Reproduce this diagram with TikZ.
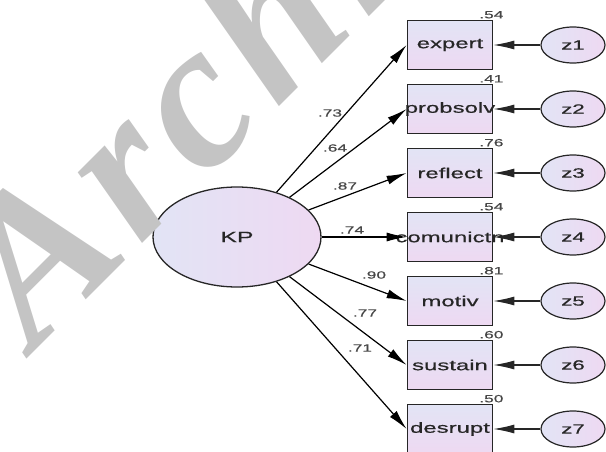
\documentclass[tikz,border=0pt]{standalone}
\usepackage{fontspec}
\setmainfont{Liberation Sans}
\newfontfamily\widesans[FakeStretch=1.65,FakeBold=0.6]{Liberation Sans}
\newfontfamily\wmarkfont[LetterSpace=5]{Liberation Serif}
\usetikzlibrary{shapes.geometric,arrows.meta}
\definecolor{lilacA}{RGB}{226,228,245}
\definecolor{lilacB}{RGB}{238,217,242}
\definecolor{ink}{RGB}{38,38,38}
\definecolor{wmgray}{RGB}{196,196,196}

\begin{document}
\begin{tikzpicture}[x=1pt, y=-1pt,
    latent/.style={ellipse, draw=ink, line width=1.3pt, left color=lilacA, right color=lilacB, text=ink, inner sep=0pt},
    obs/.style={rectangle, draw=ink, line width=1.8pt, top color=lilacA, bottom color=lilacB, text=ink,
        minimum width=85pt, minimum height=49pt, inner sep=0pt, font=\widesans\fontsize{14.5}{15}\selectfont},
    errv/.style={latent, minimum width=64pt, minimum height=36pt, line width=1.2pt, font=\widesans\fontsize{13.5}{14}\selectfont},
    num/.style={text=ink!85, inner sep=1pt, font=\widesans\fontsize{10.5}{11}\selectfont},
    load/.style={draw=black, line width=1.2pt, -{Latex[length=20pt,width=9pt]}},
    resid/.style={draw=ink, line width=1.1pt, -{Latex[length=21pt,width=9pt]}}]
    \useasboundingbox (0,0) rectangle (606,452);

    \node[latent, minimum width=168pt, minimum height=100pt, font=\widesans\fontsize{15}{15}\selectfont] (KP) at (237,237) {KP};

    \node[obs] (expert) at (450,45) {expert};
    \node[obs] (probsolv) at (450,109) {\makebox[0pt]{probsolv}};
    \node[obs] (reflect) at (450,173) {reflect};
    \node[obs] (comunictn) at (450,237) {\makebox[0pt]{comunictn}};
    \node[obs] (motiv) at (450,301) {motiv};
    \node[obs] (sustain) at (450,365) {sustain};
    \node[obs] (desrupt) at (450,429) {desrupt};

    \node[errv] (z1) at (573,45) {z1};
    \node[errv] (z2) at (573,109) {z2};
    \node[errv] (z3) at (573,173) {z3};
    \node[errv] (z4) at (573,237) {z4};
    \node[errv] (z5) at (573,301) {z5};
    \node[errv] (z6) at (573,365) {z6};
    \node[errv] (z7) at (573,429) {z7};

    % squared multiple correlations
    \node[num, anchor=south] (r1) at ([xshift=-2pt]expert.north east) {.54};
    \node[num, anchor=south] (r2) at ([xshift=-2pt]probsolv.north east) {.41};
    \node[num, anchor=south] (r3) at ([xshift=-2pt]reflect.north east) {.76};
    \node[num, anchor=south] (r4) at ([xshift=-2pt]comunictn.north east) {.54};
    \node[num, anchor=south] (r5) at ([xshift=-2pt]motiv.north east) {.81};
    \node[num, anchor=south] (r6) at ([xshift=-2pt]sustain.north east) {.60};
    \node[num, anchor=south] (r7) at ([xshift=-2pt]desrupt.north east) {.50};

    \draw[load] (KP) -- (expert.west);
    \draw[load] (KP) -- (probsolv.west);
    \draw[load] (KP) -- (reflect.west);
    \draw[load] (KP) -- (comunictn.west);
    \draw[load] (KP) -- (motiv.west);
    \draw[load] (KP) -- (sustain.west);
    \draw[load] (KP) -- (desrupt.west);

    % loadings
    \node[num] (w1) at (330,113) {.73};
    \node[num] (w2) at (335,148) {.64};
    \node[num] (w3) at (345,186) {.87};
    \node[num] (w4) at (352,230) {.74};
    \node[num] (w5) at (374,275) {.90};
    \node[num] (w6) at (365,313) {.77};
    \node[num] (w7) at (360,348) {.71};

    \draw[resid] (z1) -- (expert);
    \draw[resid] (z2) -- (probsolv);
    \draw[resid] (z3) -- (reflect);
    \draw[resid] (z4) -- (comunictn);
    \draw[resid] (z5) -- (motiv);
    \draw[resid] (z6) -- (sustain);
    \draw[resid] (z7) -- (desrupt);

    % watermark
    \node[rotate=45, anchor=base west, text=wmgray, inner sep=0pt,
        font=\wmarkfont\bfseries\itshape\fontsize{208}{208}\selectfont] (wm) at (34,352) {Archive};
\end{tikzpicture}
\end{document}
